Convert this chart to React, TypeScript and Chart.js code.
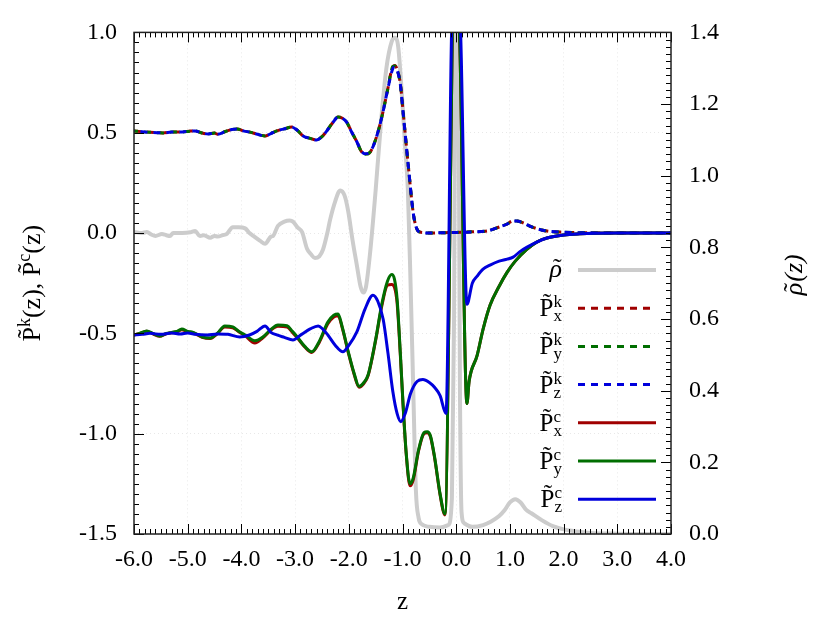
import React, { useEffect, useRef } from "react";
import { Chart, registerables } from "chart.js";

Chart.register(...registerables);

// ---------- data ----------
const rhoZ = [-6.0, -5.85, -5.76, -5.68, -5.6, -5.48, -5.4, -5.33, -5.27, -5.1, -4.95, -4.86, -4.8, -4.77, -4.7, -4.58, -4.5, -4.44, -4.35, -4.27, -4.16, -4.05, -3.93, -3.85, -3.78, -3.65, -3.56, -3.45, -3.41, -3.32, -3.2, -3.1, -3.04, -2.95, -2.87, -2.78, -2.7, -2.63, -2.55, -2.48, -2.4, -2.35, -2.25, -2.16, -2.08, -2.01, -1.93, -1.85, -1.78, -1.73, -1.68, -1.6, -1.5, -1.4, -1.3, -1.2, -1.14, -1.08, -1.0, -0.95, -0.9, -0.85, -0.8, -0.75, -0.7, -0.65, -0.5, -0.3, -0.15, -0.08, -0.04, -0.01, 0.03, 0.07, 0.1, 0.15, 0.3, 0.5, 0.65, 0.8, 0.9, 1.0, 1.1, 1.2, 1.3, 1.4, 1.6, 1.8, 2.0, 2.2, 2.5, 3.0, 4.0];
const rhoV = [0.843, 0.84, 0.843, 0.836, 0.832, 0.837, 0.834, 0.832, 0.84, 0.84, 0.842, 0.846, 0.835, 0.832, 0.834, 0.827, 0.832, 0.83, 0.834, 0.838, 0.856, 0.856, 0.853, 0.84, 0.832, 0.818, 0.81, 0.83, 0.832, 0.86, 0.872, 0.875, 0.872, 0.855, 0.843, 0.797, 0.78, 0.77, 0.775, 0.794, 0.84, 0.876, 0.93, 0.959, 0.945, 0.9, 0.82, 0.75, 0.69, 0.674, 0.69, 0.79, 0.96, 1.15, 1.3, 1.375, 1.385, 1.36, 1.2, 1.08, 0.96, 0.7, 0.406, 0.12, 0.045, 0.028, 0.02, 0.018, 0.025, 0.1, 0.6, 1.55, 1.55, 0.4, 0.06, 0.03, 0.02, 0.025, 0.035, 0.05, 0.066, 0.088, 0.097, 0.088, 0.068, 0.058, 0.038, 0.022, 0.013, 0.008, 0.003, 0.001, 0.0];

const pkZ = [-6.0, -5.85, -5.7, -5.55, -5.46, -5.3, -5.1, -4.95, -4.86, -4.75, -4.62, -4.5, -4.44, -4.3, -4.18, -4.08, -3.95, -3.84, -3.7, -3.56, -3.45, -3.34, -3.2, -3.06, -2.95, -2.85, -2.72, -2.6, -2.5, -2.41, -2.3, -2.2, -2.12, -2.04, -1.95, -1.85, -1.77, -1.7, -1.62, -1.55, -1.45, -1.36, -1.28, -1.18, -1.14, -1.1, -1.04, -0.985, -0.89, -0.8, -0.74, -0.68, -0.5, -0.2, 0.0, 0.3, 0.6, 0.8, 0.95, 1.05, 1.13, 1.25, 1.37, 1.5, 1.69, 2.0, 2.5, 3.0, 4.0];
const pkxV = [0.509, 0.505, 0.502, 0.5, 0.499, 0.503, 0.504, 0.508, 0.509, 0.5, 0.494, 0.498, 0.492, 0.506, 0.516, 0.519, 0.508, 0.503, 0.492, 0.484, 0.496, 0.509, 0.519, 0.528, 0.51, 0.484, 0.472, 0.464, 0.48, 0.509, 0.55, 0.578, 0.572, 0.553, 0.505, 0.455, 0.408, 0.392, 0.398, 0.43, 0.51, 0.608, 0.71, 0.83, 0.835, 0.815, 0.745, 0.595, 0.33, 0.1, 0.025, 0.005, 0.0, 0.002, 0.003, 0.006, 0.012, 0.03, 0.045, 0.06, 0.06, 0.05, 0.035, 0.022, 0.01, 0.004, 0.001, 0.0, 0.0];
const pkyV = [0.509, 0.505, 0.502, 0.5, 0.499, 0.503, 0.504, 0.508, 0.509, 0.5, 0.494, 0.498, 0.492, 0.506, 0.516, 0.519, 0.508, 0.503, 0.492, 0.484, 0.496, 0.509, 0.519, 0.528, 0.51, 0.484, 0.472, 0.464, 0.48, 0.509, 0.55, 0.578, 0.572, 0.553, 0.505, 0.455, 0.409, 0.393, 0.399, 0.43, 0.51, 0.608, 0.71, 0.83, 0.833, 0.815, 0.742, 0.592, 0.33, 0.1, 0.025, 0.005, 0.0, 0.002, 0.003, 0.006, 0.012, 0.03, 0.045, 0.06, 0.06, 0.05, 0.035, 0.022, 0.01, 0.004, 0.001, 0.0, 0.0];
const pkzV = [0.509, 0.505, 0.502, 0.5, 0.499, 0.503, 0.504, 0.508, 0.509, 0.5, 0.494, 0.498, 0.492, 0.506, 0.516, 0.519, 0.508, 0.503, 0.492, 0.484, 0.496, 0.509, 0.519, 0.528, 0.51, 0.484, 0.472, 0.464, 0.48, 0.509, 0.55, 0.578, 0.572, 0.553, 0.505, 0.455, 0.41, 0.395, 0.4, 0.43, 0.51, 0.608, 0.71, 0.82, 0.828, 0.812, 0.74, 0.59, 0.33, 0.1, 0.025, 0.005, 0.0, 0.002, 0.003, 0.006, 0.012, 0.03, 0.045, 0.06, 0.06, 0.05, 0.035, 0.022, 0.01, 0.004, 0.001, 0.0, 0.0];

const pcZ = [-6.0, -5.9, -5.76, -5.65, -5.52, -5.4, -5.3, -5.2, -5.11, -5.0, -4.9, -4.8, -4.73, -4.58, -4.45, -4.31, -4.16, -4.05, -3.93, -3.75, -3.6, -3.45, -3.32, -3.15, -3.05, -2.96, -2.82, -2.69, -2.55, -2.39, -2.28, -2.2, -2.12, -2.01, -1.9, -1.81, -1.72, -1.64, -1.5, -1.39, -1.28, -1.2, -1.15, -1.1, -1.04, -0.99, -0.93, -0.86, -0.8, -0.7, -0.6, -0.54, -0.48, -0.4, -0.3, -0.21, -0.04, 0.04, 0.2, 0.24, 0.39, 0.5, 0.63, 0.8, 0.95, 1.1, 1.32, 1.5, 1.69, 2.0, 2.3, 2.6, 3.0, 4.0];
const pcxV = [-0.508, -0.502, -0.49, -0.502, -0.515, -0.502, -0.497, -0.492, -0.482, -0.492, -0.497, -0.51, -0.52, -0.526, -0.502, -0.468, -0.472, -0.492, -0.512, -0.548, -0.522, -0.484, -0.465, -0.468, -0.495, -0.522, -0.568, -0.595, -0.545, -0.452, -0.418, -0.412, -0.475, -0.596, -0.705, -0.768, -0.75, -0.71, -0.535, -0.37, -0.26, -0.256, -0.27, -0.35, -0.61, -0.855, -1.105, -1.26, -1.23, -1.085, -1.0, -0.995, -1.015, -1.125, -1.305, -1.405, 1.1, 1.1, -0.85, -0.74, -0.61, -0.48, -0.36, -0.265, -0.195, -0.14, -0.08, -0.045, -0.025, -0.01, -0.004, -0.001, 0.0, 0.0];
const pcyV = [-0.508, -0.5, -0.488, -0.5, -0.513, -0.5, -0.495, -0.49, -0.478, -0.49, -0.495, -0.508, -0.518, -0.523, -0.5, -0.463, -0.468, -0.49, -0.508, -0.537, -0.518, -0.48, -0.458, -0.462, -0.49, -0.518, -0.565, -0.592, -0.54, -0.444, -0.41, -0.404, -0.47, -0.592, -0.7, -0.764, -0.745, -0.706, -0.53, -0.36, -0.24, -0.207, -0.23, -0.33, -0.6, -0.85, -1.1, -1.25, -1.22, -1.08, -0.995, -0.99, -1.01, -1.12, -1.3, -1.4, 1.1, 1.1, -0.85, -0.74, -0.61, -0.48, -0.36, -0.265, -0.195, -0.14, -0.08, -0.045, -0.025, -0.01, -0.004, -0.001, 0.0, 0.0];

const pczZ = [-6.0, -5.85, -5.7, -5.5, -5.3, -5.14, -5.0, -4.85, -4.64, -4.45, -4.25, -4.03, -3.85, -3.71, -3.56, -3.45, -3.34, -3.2, -3.04, -2.88, -2.72, -2.57, -2.48, -2.39, -2.25, -2.11, -2.0, -1.85, -1.7, -1.55, -1.46, -1.36, -1.27, -1.18, -1.1, -1.03, -0.95, -0.85, -0.73, -0.62, -0.5, -0.4, -0.3, -0.19, -0.07, 0.06, 0.2, 0.3, 0.39, 0.5, 0.63, 0.8, 0.95, 1.06, 1.2, 1.32, 1.5, 1.69, 2.0, 2.3, 2.6, 3.0, 4.0];
const pczV = [-0.508, -0.505, -0.5, -0.505, -0.498, -0.503, -0.498, -0.505, -0.508, -0.503, -0.505, -0.518, -0.508, -0.49, -0.463, -0.495, -0.508, -0.52, -0.533, -0.505, -0.478, -0.463, -0.48, -0.508, -0.56, -0.592, -0.56, -0.493, -0.38, -0.31, -0.34, -0.43, -0.6, -0.79, -0.9, -0.94, -0.9, -0.8, -0.74, -0.73, -0.745, -0.77, -0.81, -0.9, 1.1, 1.1, -0.355, -0.25, -0.215, -0.18, -0.16, -0.14, -0.13, -0.12, -0.09, -0.07, -0.045, -0.025, -0.01, -0.004, -0.001, 0.0, 0.0];

const xTickValues = [-6, -5, -4, -3, -2, -1, 0, 1, 2, 3, 4];
const yTickValues = [-1.5, -1.0, -0.5, 0.0, 0.5, 1.0];
const y2TickValues = [0.0, 0.2, 0.4, 0.6, 0.8, 1.0, 1.2, 1.4];

// ---------- styles ----------
const FONT = '"Liberation Serif", "Times New Roman", serif';
const GRAY = "#cccccc";
const RED = "#a00000";
const GREEN = "#006e00";
const BLUE = "#0000dc";
const DASH = [7, 6];

const zip = (xs: number[], ys: number[]) => xs.map((x, i) => ({ x, y: ys[i] }));

type LegendRow = { kind: "rho" | "P"; sup?: string; sub?: string; color: string; dashed: boolean; width: number };
const legendRows: LegendRow[] = [
  { kind: "rho", color: GRAY, dashed: false, width: 4 },
  { kind: "P", sup: "k", sub: "x", color: RED, dashed: true, width: 3 },
  { kind: "P", sup: "k", sub: "y", color: GREEN, dashed: true, width: 3 },
  { kind: "P", sup: "k", sub: "z", color: BLUE, dashed: true, width: 3 },
  { kind: "P", sup: "c", sub: "x", color: RED, dashed: false, width: 3 },
  { kind: "P", sup: "c", sub: "y", color: GREEN, dashed: false, width: 3 },
  { kind: "P", sup: "c", sub: "z", color: BLUE, dashed: false, width: 3 },
];

// draws italic rho with a tilde above, starting at x (left), baseline y; returns width
function drawRhoTilde(ctx: CanvasRenderingContext2D, x: number, y: number, size: number) {
  ctx.font = `italic ${size}px ${FONT}`;
  const w = ctx.measureText("\u03C1").width;
  ctx.fillText("\u03C1", x, y);
  ctx.font = `${size}px ${FONT}`;
  const tw = ctx.measureText("\u02DC").width;
  ctx.fillText("\u02DC", x + w * 0.62 - tw / 2, y - size * 0.02);
  return w;
}

const decorPlugin = {
  id: "decor",
  afterDatasetsDraw(chart: any) {
    const { ctx, chartArea: a, scales } = chart;
    const sx = scales.x, sy = scales.y, sy2 = scales.y2;
    ctx.save();
    ctx.strokeStyle = "#000";
    ctx.lineWidth = 1;
    ctx.beginPath();
    for (let i = 0; i <= 100; i++) {
      const px = Math.round(sx.getPixelForValue(-6 + i * 0.1)) + 0.5;
      const len = i % 10 === 0 ? 10 : 5;
      ctx.moveTo(px, a.bottom);
      ctx.lineTo(px, a.bottom - len);
      ctx.moveTo(px, a.top);
      ctx.lineTo(px, a.top + len);
    }
    for (let i = 0; i <= 50; i++) {
      const py = Math.round(sy.getPixelForValue(-1.5 + i * 0.05)) + 0.5;
      const len = i % 10 === 0 ? 10 : 5;
      ctx.moveTo(a.left, py);
      ctx.lineTo(a.left + len, py);
    }
    for (let i = 0; i <= 70; i++) {
      const py = Math.round(sy2.getPixelForValue(i * 0.02)) + 0.5;
      const len = i % 10 === 0 ? 10 : 5;
      ctx.moveTo(a.right, py);
      ctx.lineTo(a.right - len, py);
    }
    ctx.stroke();
    ctx.lineWidth = 1.5;
    ctx.strokeStyle = "#222";
    ctx.strokeRect(a.left, a.top, a.right - a.left, a.bottom - a.top);
    ctx.restore();
  },
  afterDraw(chart: any) {
    const { ctx, chartArea: a } = chart;
    ctx.save();
    ctx.fillStyle = "#000";
    ctx.textBaseline = "alphabetic";
    ctx.textAlign = "left";

    // left axis title (rotated, reads bottom to top)
    const cy = (a.top + a.bottom) / 2;
    const parts = [
      { t: "P\u0303", f: 26, dy: 0 },
      { t: "k", f: 18, dy: -10 },
      { t: "(z), ", f: 26, dy: 0 },
      { t: "P\u0303", f: 26, dy: 0 },
      { t: "c", f: 18, dy: -10 },
      { t: "(z)", f: 26, dy: 0 },
    ];
    ctx.save();
    ctx.translate(32, cy);
    ctx.rotate(-Math.PI / 2);
    let total = 0;
    const ws = parts.map((p) => {
      ctx.font = `${p.f}px ${FONT}`;
      const w = ctx.measureText(p.t).width;
      total += w;
      return w;
    });
    let xx = -total / 2;
    parts.forEach((p, i) => {
      ctx.font = `${p.f}px ${FONT}`;
      ctx.fillText(p.t, xx, 8 + p.dy);
      xx += ws[i];
    });
    ctx.restore();

    // right axis title (rotated, reads bottom to top)
    ctx.save();
    ctx.translate(796, cy - 8);
    ctx.rotate(-Math.PI / 2);
    ctx.font = `italic 26px ${FONT}`;
    const wR = ctx.measureText("\u03C1").width;
    const wZ = ctx.measureText("(z)").width;
    const x0 = -(wR + wZ) / 2;
    drawRhoTilde(ctx, x0, 6, 26);
    ctx.font = `italic 26px ${FONT}`;
    ctx.fillText("(z)", x0 + wR + 1, 6);
    ctx.restore();

    // legend
    const rightX = 562;
    const lineX0 = 578;
    const lineX1 = 656;
    const row0 = 270;
    const step = 38.2;
    legendRows.forEach((r, i) => {
      const y = row0 + i * step;
      ctx.save();
      ctx.strokeStyle = r.color;
      ctx.lineWidth = r.width;
      ctx.setLineDash(r.dashed ? DASH : []);
      ctx.beginPath();
      ctx.moveTo(lineX0, y);
      ctx.lineTo(lineX1, y);
      ctx.stroke();
      ctx.restore();
      if (r.kind === "rho") {
        ctx.font = `italic 26px ${FONT}`;
        const w = ctx.measureText("\u03C1").width;
        drawRhoTilde(ctx, rightX - w, y + 7, 26);
      } else {
        ctx.font = `17px ${FONT}`;
        const wSup = ctx.measureText(r.sup!).width;
        const wSub = ctx.measureText(r.sub!).width;
        const wS = Math.max(wSup, wSub);
        ctx.font = `25px ${FONT}`;
        const wP = ctx.measureText("P\u0303").width;
        const xs = rightX - wS - wP;
        ctx.fillText("P\u0303", xs, y + 8);
        ctx.font = `17px ${FONT}`;
        ctx.fillText(r.sup!, xs + wP, y - 1);
        ctx.fillText(r.sub!, xs + wP, y + 13);
      }
    });
    ctx.restore();
  },
};

export default function App() {
  const ref = useRef<HTMLCanvasElement | null>(null);
  useEffect(() => {
    if (!ref.current) return;
    const tickFont = { family: FONT, size: 24 };
    const gridCol = "rgba(0,0,0,0.09)";
    const chart = new Chart(ref.current, {
      type: "line",
      data: {
        datasets: [
          { label: "rho", data: zip(rhoZ, rhoV), yAxisID: "y2", borderColor: GRAY, borderWidth: 4, order: 10 },
          { label: "Pkx", data: zip(pkZ, pkxV), yAxisID: "y", borderColor: RED, borderWidth: 3, borderDash: DASH, borderDashOffset: 0, order: 6 },
          { label: "Pky", data: zip(pkZ, pkyV), yAxisID: "y", borderColor: GREEN, borderWidth: 3, borderDash: DASH, borderDashOffset: 3, order: 5 },
          { label: "Pkz", data: zip(pkZ, pkzV), yAxisID: "y", borderColor: BLUE, borderWidth: 3, borderDash: DASH, borderDashOffset: 6.5, order: 4 },
          { label: "Pcx", data: zip(pcZ, pcxV), yAxisID: "y", borderColor: RED, borderWidth: 3, order: 3 },
          { label: "Pcy", data: zip(pcZ, pcyV), yAxisID: "y", borderColor: GREEN, borderWidth: 3, order: 2 },
          { label: "Pcz", data: zip(pczZ, pczV), yAxisID: "y", borderColor: BLUE, borderWidth: 3, order: 1 },
        ] as any,
      },
      options: {
        responsive: false,
        animation: false,
        devicePixelRatio: 1,
        events: [],
        layout: { padding: { top: 27.5, left: 0, right: 0, bottom: 0 } },
        elements: {
          point: { radius: 0 },
          line: { cubicInterpolationMode: "monotone", fill: false, borderCapStyle: "butt", borderJoinStyle: "round" },
        },
        plugins: { legend: { display: false }, tooltip: { enabled: false }, title: { display: false } },
        scales: {
          x: {
            type: "linear",
            position: "bottom",
            min: -6,
            max: 4,
            afterFit: (s: any) => { s.height = 89; },
            afterBuildTicks: (s: any) => { s.ticks = xTickValues.map((v) => ({ value: v })); },
            ticks: {
              font: tickFont,
              color: "#000",
              padding: 11,
              autoSkip: false,
              maxRotation: 0,
              callback: (v: any) => (Math.round(Number(v) * 10) / 10).toFixed(1),
            },
            grid: { color: gridCol, drawTicks: false },
            border: { display: false, dash: [1, 3] },
            title: { display: true, text: "z", font: { family: FONT, size: 25 }, color: "#000", padding: { top: 0, bottom: 6 } },
          },
          y: {
            type: "linear",
            position: "left",
            min: -1.5,
            max: 1.0,
            afterFit: (s: any) => { s.width = 134; },
            afterBuildTicks: (s: any) => { s.ticks = yTickValues.map((v) => ({ value: v })); },
            ticks: {
              font: tickFont,
              color: "#000",
              padding: 17,
              autoSkip: false,
              callback: (v: any) => (Math.round(Number(v) * 10) / 10).toFixed(1),
            },
            grid: { color: gridCol, drawTicks: false },
            border: { display: false, dash: [1, 3] },
          },
          y2: {
            type: "linear",
            position: "right",
            min: 0,
            max: 1.4,
            afterFit: (s: any) => { s.width = 160; },
            afterBuildTicks: (s: any) => { s.ticks = y2TickValues.map((v) => ({ value: v })); },
            ticks: {
              font: tickFont,
              color: "#000",
              padding: 18,
              autoSkip: false,
              callback: (v: any) => (Math.round(Number(v) * 10) / 10).toFixed(1),
            },
            grid: { drawOnChartArea: false, drawTicks: false },
            border: { display: false },
          },
        },
      } as any,
      plugins: [decorPlugin],
    });
    return () => chart.destroy();
  }, []);
  return (
    <div style={{ position: "absolute", left: 0, top: 0, width: 831, height: 623, background: "#fff" }}>
      <canvas ref={ref} width={831} height={623} style={{ display: "block", width: 831, height: 623 }} />
    </div>
  );
}
